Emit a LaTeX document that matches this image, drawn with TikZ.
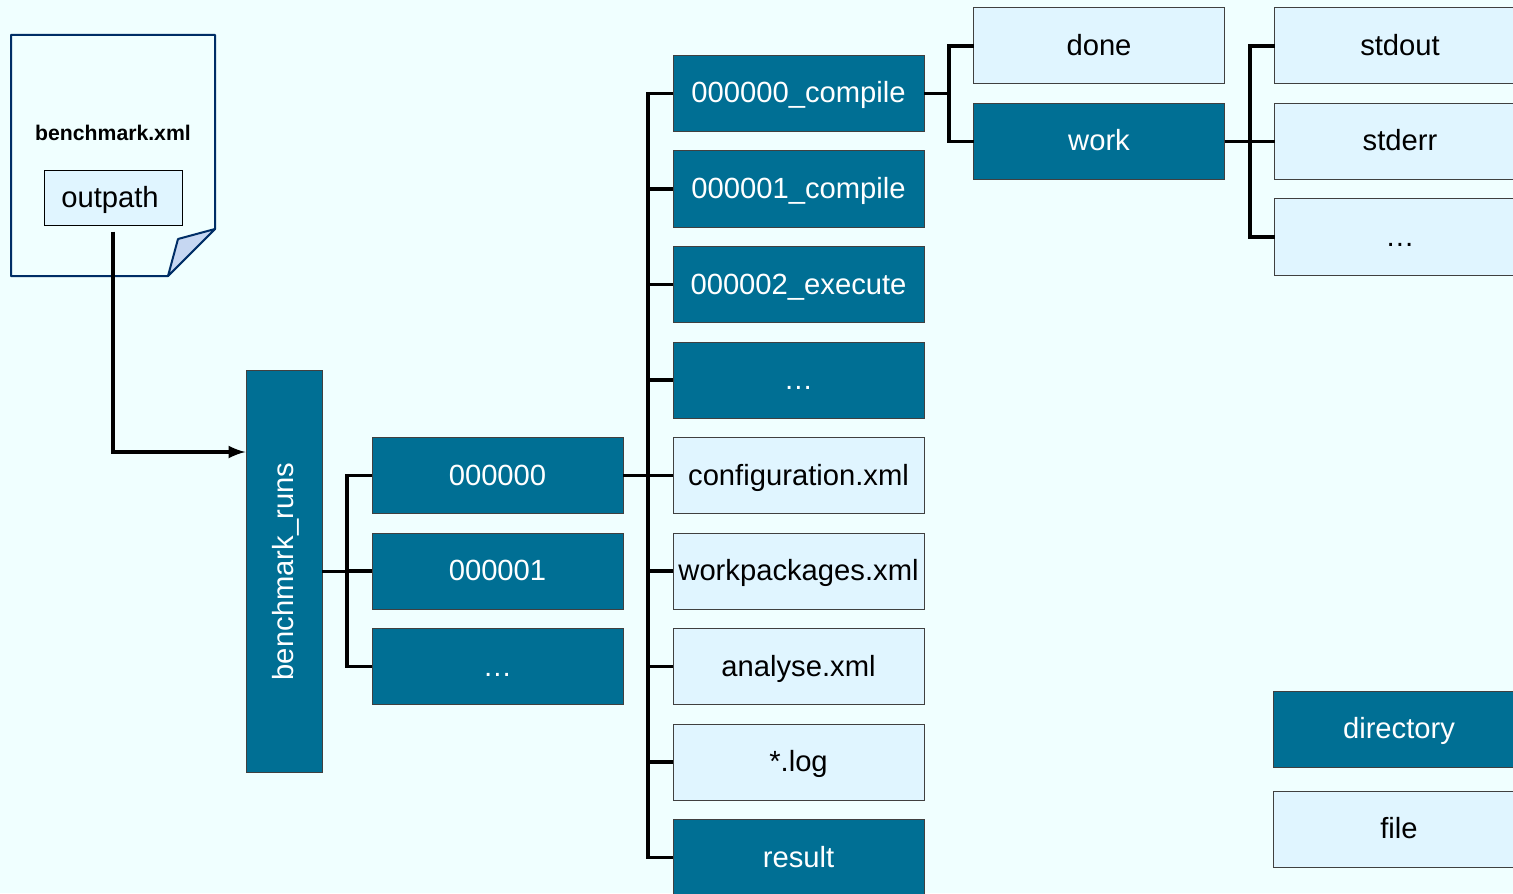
\documentclass[tikz,border=0pt]{standalone}
\usepackage{fontspec}
\setmainfont{Liberation Sans}
\usetikzlibrary{calc}
\usetikzlibrary{shapes,arrows,positioning}
\definecolor{dirblue}{HTML}{006F94}
\definecolor{fileblue}{HTML}{E0F5FF}
\definecolor{pageblue}{HTML}{F0FFFF}
\definecolor{docblue}{HTML}{002E66}
\definecolor{foldblue}{HTML}{C6D7F2}

\begin{document}
\begin{tikzpicture}[
     node distance=47.75pt,
     box/.style = {draw=black!75, rectangle, line width=.5pt, inner sep=0pt, outer sep=0pt,
      minimum width=125.5pt, minimum height=38pt, text height=12pt, text depth=2.5pt,
      font=\fontsize{14.6}{17}\selectfont},
     dirbox/.style = {box, fill=dirblue, text=white},
     filebox/.style = {box, fill=fileblue, text=black},
     conn/.style = {draw, line width=1.9pt, line join=miter},
     doc/.style = {draw=docblue, line width=1pt, line join=round}
    ]
    \fill [pageblue] (0,0) rectangle (756.5pt,-446.5pt);
    \useasboundingbox (0,0) rectangle (756.5pt,-446.5pt);

    % note sheet
    \draw [doc, fill=pageblue] (5.5pt,-17.5pt) -- (107.5pt,-17.5pt) -- (107.5pt,-114.5pt)
      -- (84pt,-138pt) -- (5.5pt,-138pt) -- cycle;
    \draw [doc, fill=foldblue] (107.5pt,-114.5pt) -- (89pt,-119.5pt) -- (84pt,-138pt) -- cycle;
    \node [font=\fontsize{10.6}{13}\selectfont\bfseries, inner sep=0pt] (bxml) at (56.5pt,-66.5pt) {benchmark.xml};
    \node [filebox, draw=black, minimum width=69pt, minimum height=27.5pt] (outpath) at (56.5pt,-99pt) {outpath\hspace*{3pt}};

    % first level
    \node [dirbox, rotate=90, minimum width=201pt] (runs) at (142pt,-285.75pt) {benchmark\_runs};
    \node [dirbox] (r0) at (248.75pt,-237.75pt) {000000};
    \node [dirbox, below of=r0] (r1) {000001};
    \node [dirbox, below of=r1] (rdots) {…};

    % run folder
    \node [dirbox] (c0) at (399.25pt,-46.75pt) {000000\_compile};
    \node [dirbox, below of=c0] (c1) {000001\_compile};
    \node [dirbox, below of=c1] (c2) {000002\_execute};
    \node [dirbox, below of=c2] (cdots) {…};
    \node [filebox, below of=cdots] (config) {configuration.xml};
    \node [filebox, below of=config] (wp) {workpackages.xml};
    \node [filebox, below of=wp] (analyse) {analyse.xml};
    \node [filebox, below of=analyse] (log) {*.log};
    \node [dirbox, below of=log] (result) {result};

    % step folder
    \node [filebox] (done) at (549.5pt,-23pt) {done};
    \node [dirbox, below of=done] (work) {work};
    \node [filebox] (stdout) at (700pt,-23pt) {stdout};
    \node [filebox, below of=stdout] (stderr) {stderr};
    \node [filebox, below of=stderr] (wdots) {…};

    % legend
    \node [dirbox] (dirkey) at (699.5pt,-364.5pt) {directory};
    \node [filebox] (filekey) at (699.5pt,-414.5pt) {file};

    \coordinate (runsin) at (122.75pt,-226pt);
    \coordinate (tr) at (173.5pt,0);
    \coordinate (tc) at (324pt,0);
    \coordinate (tw) at (474.5pt,0);
    \coordinate (ts) at (625pt,0);

    \draw [conn, -latex] ([yshift=-3pt]outpath.south) |- (runsin);

    \draw [conn] (runs.south) -- (tr |- runs.south);
    \draw [conn] (r0.west) -| (tr |- rdots.west) -- (rdots.west);
    \draw [conn] (tr |- r1.west) -- (r1.west);

    \draw [conn] (r0.east) -- (tc |- r0.east);
    \draw [conn] (c0.west) -| (tc |- result.west) -- (result.west);
    \foreach \n in {c1,c2,cdots,config,wp,analyse,log}
      \draw [conn] (tc |- \n.west) -- (\n.west);

    \draw [conn] (c0.east) -- (tw |- c0.east);
    \draw [conn] (done.west) -| (tw |- work.west) -- (work.west);

    \draw [conn] (work.east) -- (stderr.west);
    \draw [conn] (stdout.west) -| (ts |- wdots.west) -- (wdots.west);
\end{tikzpicture}
\end{document}
